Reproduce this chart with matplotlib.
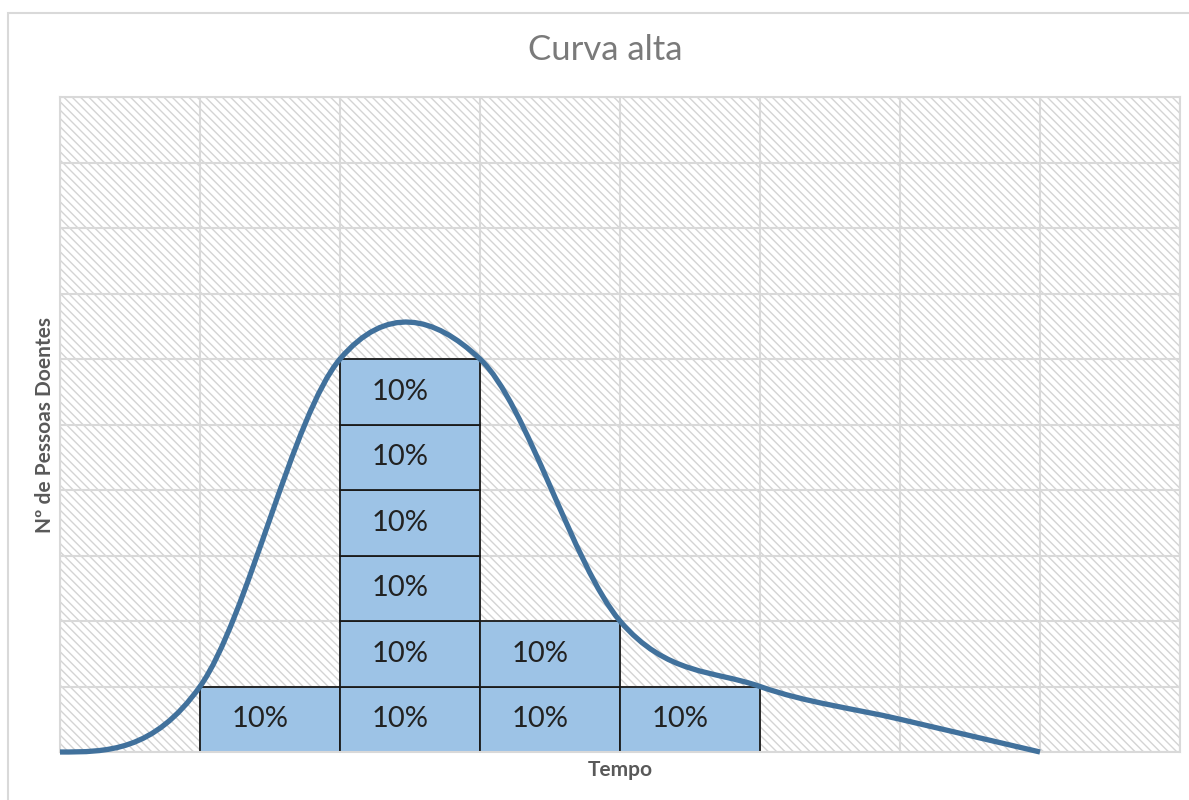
import numpy as np
import matplotlib.pyplot as plt
from matplotlib.patches import Rectangle, PathPatch
from matplotlib.path import Path

# chart data
title = "Curva alta"
x_label = "Tempo"
y_label = "Nº de Pessoas Doentes"
block_text = "10%"
col_counts = [0, 1, 6, 2, 1, 0, 0, 0]   # stacked 10% blocks per time column

# smoothed curve series (x in columns, y in rows)
curve_x = [0, 1, 2, 3, 4, 5, 6, 7]
curve_y = [0, 1, 6, 6, 2, 1, 0.5, 0]


def smooth_path(xs, ys):
    # excel-like smoothed line: catmull-rom bezier segments, natural ends
    pts = np.column_stack([xs, ys]).astype(float)
    n = len(pts)
    verts = [pts[0]]
    codes = [Path.MOVETO]
    for i in range(n - 1):
        p1, p2 = pts[i], pts[i + 1]
        c1 = p1 + (p2 - pts[i - 1]) / 6 if i > 0 else None
        c2 = p2 - (pts[i + 2] - p1) / 6 if i < n - 2 else None
        if c1 is None:
            c1 = p1 + (c2 - p1) / 2
        if c2 is None:
            c2 = p2 + (c1 - p2) / 2
        verts += [c1, c2, p2]
        codes += [Path.CURVE4] * 3
    return Path(verts, codes)


plt.rcParams['font.family'] = ['Lato', 'DejaVu Sans']
plt.rcParams['hatch.linewidth'] = 1.0

fig = plt.figure(figsize=(11.89, 8), dpi=100)
fig.patches.append(Rectangle((8 / 1189, -0.1), 1.2, (800 - 13) / 800 + 0.1,
                             transform=fig.transFigure, facecolor='white',
                             edgecolor='#d9d9d9', lw=1.5, zorder=-5))

ax = fig.add_axes([60 / 1189, 48 / 800, 1120 / 1189, 655 / 800])
ax.set_xlim(0, 8)
ax.set_ylim(0, 10)

# hatched plot background
ax.add_patch(Rectangle((0, 0), 1, 1, transform=ax.transAxes, facecolor='white',
                       edgecolor='#d4d4d4', hatch='\\\\\\\\', lw=0, zorder=0))

ax.set_xticks(range(9))
ax.set_yticks(range(11))
ax.grid(True, color='#d9d9d9', lw=1.5, zorder=1)
ax.tick_params(length=0, labelbottom=False, labelleft=False)
for s in ax.spines.values():
    s.set_color('#d9d9d9')
    s.set_linewidth(1.5)

# stacked blocks
for col, n in enumerate(col_counts):
    for level in range(n):
        ax.bar(col + 0.5, 1, width=1, bottom=level, color='#9dc3e6',
               edgecolor='#1a1a1a', lw=1.3, zorder=2)
        ax.text(col + 0.43, level + 0.5, block_text, ha='center', va='center',
                fontsize=21, color='#222222', zorder=4)

ax.add_patch(PathPatch(smooth_path(curve_x, curve_y), fill=False,
                       edgecolor='#41719c', lw=3.8, capstyle='butt',
                       joinstyle='round', zorder=3, clip_on=False))

fig.text(605 / 1189, 1 - 50 / 800, title, ha='center', va='center',
         fontsize=25, color='#7a7a7a')
fig.text(620 / 1189, 1 - 770 / 800, x_label, ha='center', va='center',
         fontsize=15, fontweight='bold', color='#595959')
fig.text(45 / 1189, 1 - 425 / 800, y_label, ha='center', va='center',
         rotation=90, fontsize=15, fontweight='bold', color='#595959')

fig.savefig('out.png', dpi=100)
